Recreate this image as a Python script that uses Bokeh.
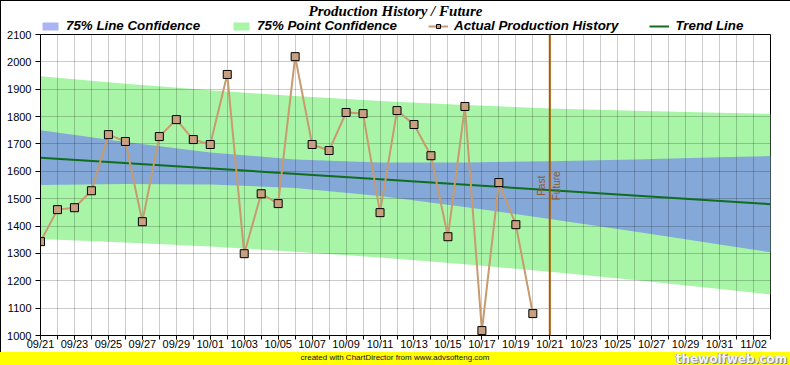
from datetime import date
from math import pi

from bokeh.plotting import figure
from bokeh.models import (Range1d, FixedTicker, SingleIntervalTicker, Legend,
                          LegendItem, Label, Span, Div)
from bokeh.layouts import column
from bokeh.embed import file_html
from bokeh.resources import INLINE

# ---------------- data ----------------
YEAR = 2005
start_date = "09/21"
end_date = "11/03"
past_future_date = "10/21"

prod_dates = ["09/21", "09/22", "09/23", "09/24", "09/25", "09/26", "09/27", "09/28",
              "09/29", "09/30", "10/01", "10/02", "10/03", "10/04", "10/05", "10/06",
              "10/07", "10/08", "10/09", "10/10", "10/11", "10/12", "10/13", "10/14",
              "10/15", "10/16", "10/17", "10/18", "10/19", "10/20"]
prod_values = [1343, 1460, 1467, 1529, 1734, 1709, 1416, 1727, 1789, 1716,
               1698, 1954, 1299, 1518, 1482, 2019, 1698, 1676, 1815, 1811,
               1449, 1822, 1771, 1657, 1361, 1837, 1018, 1559, 1405, 1080]

trend_dates = ["09/21", "11/03"]
trend_values = [1650, 1480]

band_dates = ["09/21", "09/26", "10/01", "10/06", "10/11", "10/16", "10/21",
              "10/26", "10/31", "11/03"]
line_conf_upper = [1750, 1707, 1669, 1643, 1632, 1632, 1637, 1643, 1651, 1656]
line_conf_lower = [1550, 1554, 1552, 1539, 1510, 1470, 1426, 1380, 1333, 1304]
point_conf_upper = [1947, 1920, 1896, 1875, 1857, 1842, 1830, 1821, 1814, 1810]
point_conf_lower = [1353, 1340, 1325, 1306, 1285, 1260, 1233, 1203, 1170, 1150]

tick_labels = ["09/21", "09/23", "09/25", "09/27", "09/29", "10/01", "10/03", "10/05",
               "10/07", "10/09", "10/11", "10/13", "10/15", "10/17", "10/19", "10/21",
               "10/23", "10/25", "10/27", "10/29", "10/31", "11/02"]

y_min, y_max = 1000, 2100

chart_title = "Production History / Future"
legend_labels = ["75% Line Confidence", "75% Point Confidence",
                 "Actual Production History", "Trend Line"]


def day(s):
    m, d = map(int, s.split("/"))
    return (date(YEAR, m, d) - date(YEAR, 9, 21)).days


prod_x = [day(s) for s in prod_dates]
trend_x = [day(s) for s in trend_dates]
band_x = [day(s) for s in band_dates]
x_end = day(end_date)

W = 790
HEADER_H = 34
OVERLAP = 6
FOOTER_H = 13

# colours / styles
C_GREEN = "#a8f5a8"
C_BLUE = "#84a8d8"
C_BLUE_KEY = "#aab4f5"
C_TREND = "#0e6e1e"
C_PROD = "#c89a6e"
C_MARK = "#c8a080"


def draw_series(fig, blue_fill):
    g = fig.varea(x=band_x, y1=point_conf_lower, y2=point_conf_upper,
                  fill_color=C_GREEN, level="image")
    b = fig.varea(x=band_x, y1=line_conf_lower, y2=line_conf_upper,
                  fill_color=blue_fill, level="image")
    t = fig.line(trend_x, trend_values, line_color=C_TREND, line_width=2)
    pl = fig.line(prod_x, prod_values, line_color=C_PROD, line_width=2)
    pp = fig.scatter(prod_x, prod_values, marker="square", size=8,
                     fill_color=C_MARK, line_color="black", line_width=1)
    return g, b, t, pl, pp


# ---------------- header (title + legend) ----------------
# (its frame is aligned by the column with the chart frame below: x 40..770)
header = figure(width=W, height=HEADER_H, x_range=Range1d(0, 1), y_range=Range1d(0, 1),
                x_axis_type=None, y_axis_type=None, toolbar_location=None,
                output_backend="svg", min_border=0, min_border_left=0, min_border_right=0,
                min_border_top=0, min_border_bottom=0, outline_line_color=None,
                background_fill_alpha=0, border_fill_alpha=0)
# legend keys: same series, outside the header's (unit) ranges so only the keys show
hg, hb, ht, hpl, hpp = draw_series(header, C_BLUE_KEY)

header.add_layout(Label(x=355, y=HEADER_H - 2, x_units="screen", y_units="screen",
                        text=chart_title, text_font="Liberation Serif",
                        text_font_style="bold italic", text_font_size="15px",
                        text_align="center", text_baseline="top", text_color="black"))

legend = Legend(items=[
    LegendItem(label=legend_labels[0], renderers=[hb]),
    LegendItem(label=legend_labels[1], renderers=[hg]),
    LegendItem(label=legend_labels[2], renderers=[hpl, hpp]),
    LegendItem(label=legend_labels[3], renderers=[ht]),
], orientation="horizontal", location=(0, 1), padding=0, margin=0, spacing=31,
    label_standoff=6, glyph_width=20, glyph_height=10, border_line_alpha=0,
    background_fill_alpha=0, label_text_font="Liberation Sans",
    label_text_font_style="bold italic", label_text_font_size="10pt",
    label_text_color="black")
header.add_layout(legend)

# ---------------- main chart ----------------
p = figure(width=W, height=365 - FOOTER_H - HEADER_H + OVERLAP,
           x_range=Range1d(0, x_end), y_range=Range1d(y_min, y_max),
           output_backend="svg", toolbar_location=None,
           min_border_left=40, min_border_right=20, min_border_top=OVERLAP,
           min_border_bottom=17, background_fill_color="white", border_fill_alpha=0,
           outline_line_color="black", outline_line_width=1)
p.styles = {"margin-top": "-%dpx" % OVERLAP}

draw_series(p, C_BLUE)

pf = day(past_future_date)
p.add_layout(Span(location=pf, dimension="height", line_color="#a85800", line_width=2))
p.add_layout(Label(x=pf, y=1547, x_offset=-8, text="Past", angle=pi / 2,
                   text_align="center", text_baseline="middle", text_font="Liberation Sans",
                   text_font_size="10px", text_color="#8b5a2b"))
p.add_layout(Label(x=pf, y=1547, x_offset=7, text="Future", angle=pi / 2,
                   text_align="center", text_baseline="middle", text_font="Liberation Sans",
                   text_font_size="10px", text_color="#8b5a2b"))

p.xaxis.ticker = FixedTicker(ticks=[day(t) for t in tick_labels],
                             minor_ticks=list(range(0, x_end + 1)))
p.xaxis.major_label_overrides = {day(t): t for t in tick_labels}
p.yaxis.ticker = SingleIntervalTicker(interval=100, num_minor_ticks=0)
for ax in (p.xaxis, p.yaxis):
    ax.axis_line_color = "black"
    ax.major_tick_line_color = "black"
    ax.minor_tick_line_color = "black"
    ax.major_tick_in = 0
    ax.minor_tick_in = 0
    ax.major_label_text_font = "Liberation Sans"
    ax.major_label_text_font_size = "11px"
    ax.major_label_text_color = "black"
p.xaxis.major_tick_out = 4
p.xaxis.minor_tick_out = 4
p.xaxis.major_label_standoff = -2
p.yaxis.major_tick_out = 5
p.yaxis.minor_tick_out = 0
p.yaxis.major_label_standoff = 4

p.xgrid.ticker = FixedTicker(ticks=list(range(0, x_end + 1)))
for g in (p.xgrid, p.ygrid):
    g.grid_line_color = "black"
    g.grid_line_alpha = 0.2

# ---------------- footer ----------------
footer = Div(width=W, height=FOOTER_H, margin=0,
             styles={"background-color": "#ffff00", "overflow": "hidden"},
             text=(
    '<div style="position:absolute;left:0;top:0;width:790px;height:13px;">'
    '<span style="position:absolute;left:0;right:0;top:1px;text-align:center;line-height:11px;'
    'font:8px \'Liberation Sans\';color:#101030;">created with ChartDirector from www.advsofteng.com</span>'
    '<span style="position:absolute;right:3px;top:0px;line-height:13px;font:bold 12px \'DejaVu Sans\';'
    'color:#f4f4f4;text-shadow:1px 1px 0 #888, -1px 0 0 #aaa;">thewolfweb.com</span></div>'))

layout = column(header, p, footer, spacing=0,
                styles={"box-shadow": "inset 1px 1px 0 #000000"})

open("out.html", "w").write(file_html(layout, INLINE))
